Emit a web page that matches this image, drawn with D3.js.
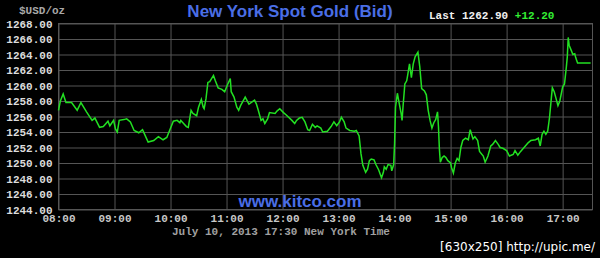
<html>
<script src='https://d3js.org/d3.v7.min.js'></script>
<style>
body {margin: 0; background: #000;}
text {font-family: 'Liberation Mono', monospace;}
</style>
<body onload='init()'>
<svg width=600 height=258></svg>
<script>
// gold bid quotes, New York time, July 10 2013
var times = [
  "08:00","08:02","08:05","08:08","08:14","08:20","08:24","08:30","08:36","08:39",
  "08:44","08:48","08:53","08:55","08:59","09:01","09:03","09:05","09:10","09:13",
  "09:17","09:21","09:26","09:30","09:33","09:36","09:42","09:47","09:52","09:56",
  "09:59","10:03","10:07","10:10","10:11","10:14","10:17","10:19","10:22","10:24",
  "10:28","10:30","10:33","10:35","10:36","10:38","10:40","10:42","10:46","10:48",
  "10:51","10:55","10:58","11:01","11:04","11:05","11:08","11:11","11:13","11:15",
  "11:20","11:24","11:30","11:32","11:34","11:37","11:39","11:41","11:44","11:46",
  "11:52","11:54","11:57","12:01","12:04","12:10","12:13","12:15","12:18","12:21",
  "12:24","12:27","12:29","12:32","12:35","12:37","12:41","12:43","12:48","12:52",
  "12:55","12:58","13:01","13:03","13:06","13:08","13:12","13:17","13:19","13:22",
  "13:24","13:26","13:29","13:31","13:33","13:35","13:38","13:40","13:43","13:46",
  "13:48","13:49","13:51","13:53","13:56","13:57","13:59","14:00","14:01","14:03",
  "14:04","14:07","14:08","14:09","14:11","14:13","14:14","14:16","14:18","14:20",
  "14:22","14:25","14:27","14:29","14:32","14:34","14:36","14:38","14:40","14:42",
  "14:44","14:46","14:47","14:48","14:49","14:51","14:53","14:55","14:57","15:00",
  "15:01","15:03","15:05","15:07","15:09","15:11","15:13","15:16","15:19","15:21",
  "15:24","15:26","15:29","15:31","15:35","15:37","15:40","15:43","15:45","15:48",
  "15:51","15:53","15:56","16:00","16:03","16:07","16:09","16:12","16:15","16:18",
  "16:23","16:26","16:31","16:34","16:36","16:38","16:40","16:42","16:44","16:46",
  "16:48","16:49","16:51","16:53","16:55","16:57","17:00","17:02","17:04","17:05",
  "17:06","17:07","17:09","17:11","17:13","17:14","17:16","17:30"
];
var prices = [
  1256.8,1258.0,1258.9,1257.8,1257.8,1256.8,1257.8,1256.6,1255.5,1255.8,
  1254.6,1254.7,1255.4,1254.8,1255.5,1254.4,1254.0,1255.5,1255.6,1255.7,
  1255.3,1254.2,1253.9,1254.3,1253.5,1252.7,1252.9,1253.4,1253.0,1253.3,
  1254.2,1255.4,1255.5,1255.2,1255.5,1255.1,1254.7,1254.6,1256.8,1256.4,
  1256.1,1257.2,1258.2,1257.2,1257.0,1258.3,1260.4,1260.5,1261.3,1260.6,
  1259.7,1259.5,1259.2,1260.1,1260.9,1259.2,1258.5,1257.2,1256.8,1257.4,
  1258.5,1257.6,1258.1,1257.6,1256.8,1255.5,1255.7,1255.1,1255.7,1256.5,
  1256.4,1256.7,1257.0,1256.5,1256.2,1255.5,1255.1,1255.5,1255.8,1255.9,
  1255.3,1254.3,1254.2,1255.0,1254.6,1254.8,1254.5,1254.0,1254.1,1254.7,
  1255.3,1254.8,1255.3,1255.9,1255.3,1254.5,1254.2,1254.1,1254.2,1253.5,
  1251.2,1249.7,1248.8,1249.2,1250.3,1250.5,1250.4,1249.8,1249.1,1248.1,
  1248.8,1249.5,1249.2,1249.8,1249.7,1249.0,1249.8,1252.5,1257.2,1259.0,
  1258.3,1256.4,1255.5,1257.2,1260.2,1260.6,1261.3,1262.8,1261.0,1262.8,
  1263.7,1264.3,1262.4,1259.6,1259.3,1258.8,1256.8,1255.5,1254.5,1255.2,
  1255.6,1256.6,1254.7,1251.8,1250.1,1250.7,1250.9,1250.7,1250.3,1250.0,
  1249.4,1248.7,1250.0,1250.6,1250.3,1252.0,1252.9,1253.2,1253.0,1254.3,
  1253.1,1253.4,1252.9,1251.5,1250.9,1250.1,1250.9,1252.2,1252.4,1252.9,
  1252.4,1252.0,1251.9,1251.6,1250.9,1251.1,1251.6,1251.0,1251.5,1251.9,
  1252.6,1252.9,1253.0,1253.2,1252.2,1253.7,1254.1,1253.7,1254.1,1255.9,
  1258.5,1259.7,1259.2,1258.3,1257.4,1258.0,1259.8,1260.2,1262.4,1263.7,
  1266.2,1265.2,1264.6,1264.0,1264.1,1263.6,1262.9,1262.9
];
var yTicks = [1244,1246,1248,1250,1252,1254,1256,1258,1260,1262,1264,1266,1268];
var xTicks = ["08:00","09:00","10:00","11:00","12:00","13:00","14:00","15:00","16:00","17:00"];
var xEnd = "17:32";
var lastPrice = "1262.90";
var change = "+12.20";

function init() {
    var parse = d3.timeParse("%H:%M");
    var data = times.map((t, i) => ({t: parse(t), v: prices[i]}));

    var left = 58.5, right = 592.5, top = 23.5, bottom = 209.5;
    var mono = "'Liberation Mono', 'DejaVu Sans Mono', monospace";

    var x = d3.scaleTime([parse(xTicks[0]), parse(xEnd)], [left, right]);
    var y = d3.scaleLinear([yTicks[0], yTicks[yTicks.length-1]], [bottom, top]);

    var svg = d3.select("svg");
    svg.append("rect").attr("width", 600).attr("height", 258).attr("fill", "#000");

    // grid + y labels
    var yAxis = d3.axisLeft(y)
        .tickValues(yTicks)
        .tickFormat(d3.format(".2f"))
        .tickSize(-(right - left))
        .tickPadding(6);
    var gy = svg.append("g")
        .attr("transform", "translate(" + left + ",0)")
        .call(yAxis);
    gy.select(".domain").remove();
    gy.selectAll("line").attr("stroke", "#555");
    gy.selectAll("text")
        .attr("fill", "#dcdcdc")
        .attr("font-size", 11)
        .attr("font-weight", "bold")
        .attr("font-family", mono);

    var xAxis = d3.axisBottom(x)
        .tickValues(xTicks.map(parse))
        .tickFormat(d3.timeFormat("%H:%M"))
        .tickSize(-(bottom - top))
        .tickPadding(5);
    var gx = svg.append("g")
        .attr("transform", "translate(0," + bottom + ")")
        .call(xAxis);
    gx.select(".domain").remove();
    gx.selectAll("line").attr("stroke", "#555");
    gx.selectAll("text")
        .attr("fill", "#c8c8c8")
        .attr("font-size", 11)
        .attr("font-weight", "bold")
        .attr("font-family", mono);

    svg.append("rect")
        .attr("x", left).attr("y", top)
        .attr("width", right - left).attr("height", bottom - top)
        .attr("fill", "none").attr("stroke", "#555");

    svg.append("text")
        .attr("x", 300).attr("y", 207)
        .attr("text-anchor", "middle")
        .attr("fill", "#4a6ee6")
        .style("font-family", "'Liberation Sans', Arial, sans-serif")
        .style("font-weight", "bold")
        .style("font-size", "17px")
        .text("www.kitco.com");

    svg.append("path")
        .datum(data)
        .attr("fill", "none")
        .attr("stroke", "#22e022")
        .attr("stroke-width", 1.5)
        .attr("d", d3.line().x(d => x(d.t)).y(d => y(d.v)));

    svg.append("text")
        .attr("x", 290).attr("y", 17)
        .attr("text-anchor", "middle")
        .attr("fill", "#4a6ee6")
        .style("font-family", "'Liberation Sans', Arial, sans-serif")
        .style("font-weight", "bold")
        .style("font-size", "17px")
        .text("New York Spot Gold (Bid)");

    svg.append("text")
        .attr("x", 19).attr("y", 14)
        .attr("fill", "#a8a8a8")
        .attr("font-size", 11)
        .attr("font-weight", "bold")
        .attr("font-family", mono)
        .text("$USD/oz");

    var last = svg.append("text")
        .attr("x", 429).attr("y", 19)
        .attr("font-size", 11)
        .attr("font-weight", "bold")
        .attr("font-family", mono);
    last.append("tspan").attr("fill", "#f0f0f0").text("Last " + lastPrice + " ");
    last.append("tspan").attr("fill", "#33ee33").text(change);

    svg.append("text")
        .attr("x", 172).attr("y", 234.5)
        .attr("fill", "#a0a0a0")
        .attr("font-size", 11)
        .attr("font-weight", "bold")
        .attr("font-family", mono)
        .text("July 10, 2013 17:30 New York Time");

    svg.append("text")
        .attr("x", 595).attr("y", 251)
        .attr("text-anchor", "end")
        .attr("fill", "#fff")
        .style("font-family", "'DejaVu Sans', sans-serif")
        .style("font-size", "12px")
        .text("[630x250] http://upic.me/");
}
</script>
</body>
</html>
